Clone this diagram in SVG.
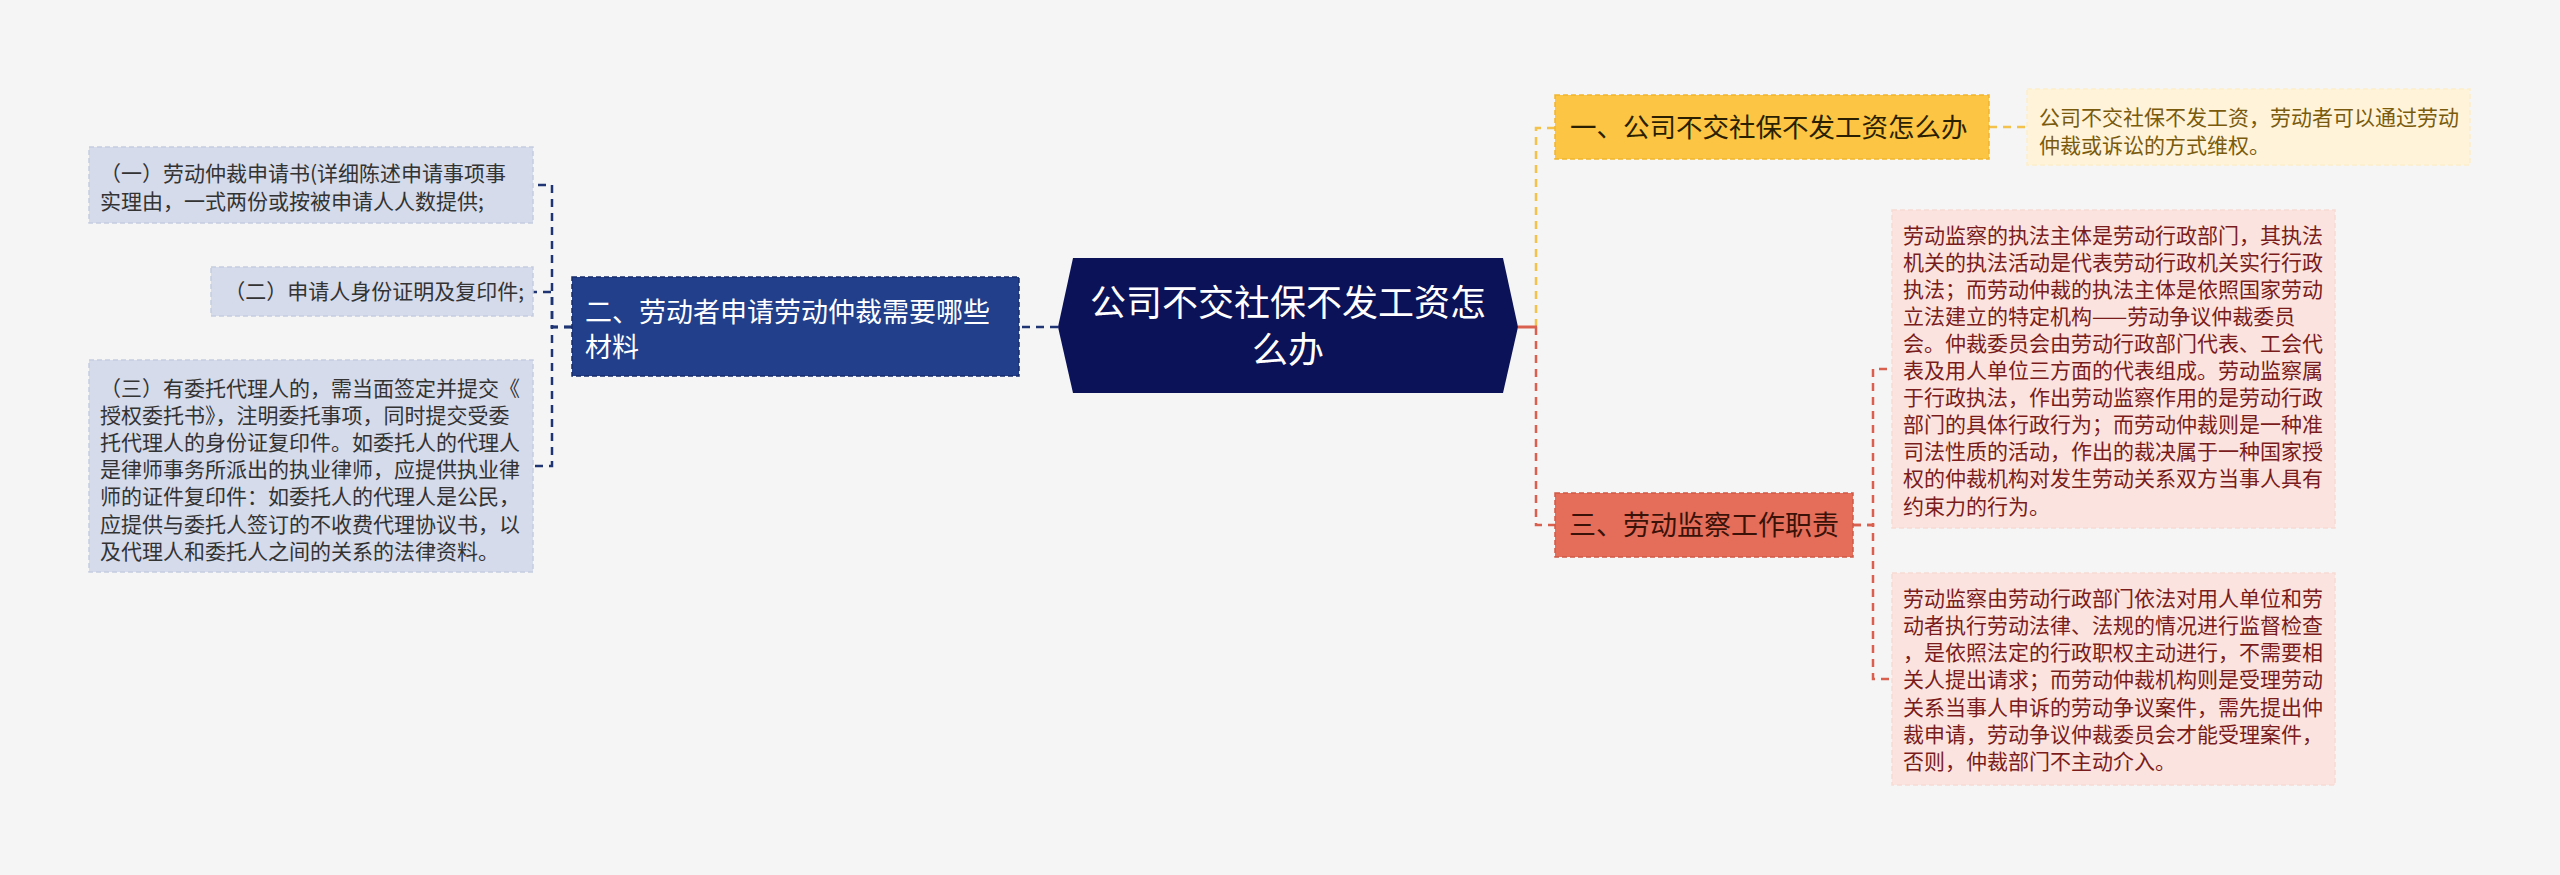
<svg xmlns="http://www.w3.org/2000/svg" width="2560" height="875" viewBox="0 0 2560 875">
<style>
text{font-family:"Noto Sans CJK SC","Noto Sans",sans-serif;}
.lbox{fill:#d5dbeb;stroke:#c6cde1;stroke-width:1.5;stroke-dasharray:5 3;}
.ltxt{font-size:21px;fill:#333333;}
.n2{fill:#213f8b;stroke:#162c6c;stroke-width:1.5;stroke-dasharray:5 3;}
.n2t{font-size:27px;fill:#ffffff;}
.ctr{fill:#0b1258;}
.ctrt{font-size:36px;fill:#ffffff;}
.n1{fill:#fcc543;stroke:#efb52f;stroke-width:1.5;stroke-dasharray:5 3;}
.n1t{font-size:26.5px;fill:#2a1f00;}
.y1{fill:#fff4d9;stroke:#fdeecb;stroke-width:1.5;stroke-dasharray:5 3;}
.y1t{font-size:21px;fill:#7a5b0e;}
.n3{fill:#e46e5a;stroke:#cf5a47;stroke-width:1.5;stroke-dasharray:5 3;}
.n3t{font-size:27px;fill:#3b1208;}
.r1{fill:#fbe4df;stroke:#f8dad3;stroke-width:1.5;stroke-dasharray:5 3;}
.r1t{font-size:21px;fill:#7a1c1c;}
.cb{fill:none;stroke:#1f3573;stroke-width:2.5;stroke-dasharray:8 6;}
.cy{fill:none;stroke:#f4c14b;stroke-width:2.5;stroke-dasharray:8 6;}
.cr{fill:none;stroke:#d9604f;stroke-width:2.5;stroke-dasharray:8 6;}
</style>
<rect x="0" y="0" width="2560" height="875" fill="#f5f5f5"/>

<g id="connectors">
  <path class="cb" d="M1058,327 H1019"/>
  <path class="cb" d="M572,327 H552 V185 H533"/>
  <path class="cb" d="M572,327 H552 V292 H533"/>
  <path class="cb" d="M572,327 H552 V466 H533"/>
  <path class="cy" d="M1536,327 V128 H1555"/>
  <path class="cy" d="M1989,127 H2027"/>
  <path class="cr" d="M1536,327 V525 H1555"/>
  <path d="M1518,327 H1537" stroke="#d9604f" stroke-width="3" fill="none"/>
  <path class="cr" d="M1853,525 H1873 V369 H1892"/>
  <path class="cr" d="M1853,525 H1873 V679 H1892"/>
</g>

<g id="center">
  <polygon class="ctr" points="1058,327 1073,258 1503,258 1518,327 1503,393 1073,393"/>
  <text class="ctrt" x="1288" y="316" text-anchor="middle">公司不交社保不发工资怎</text>
  <text class="ctrt" x="1288" y="363" text-anchor="middle">么办</text>
</g>

<g id="node-2">
  <rect class="n2" x="572" y="277" width="447" height="99"/>
  <text class="n2t" x="585" y="321.5">二、劳动者申请劳动仲裁需要哪些</text>
  <text class="n2t" x="585" y="356.5">材料</text>
</g>

<g id="leaf-2-1">
  <rect class="lbox" x="89" y="147" width="444" height="76"/>
  <text class="ltxt" x="100" y="180.5">（一）劳动仲裁申请书(详细陈述申请事项事</text>
  <text class="ltxt" x="100" y="208.5">实理由，一式两份或按被申请人人数提供;</text>
</g>

<g id="leaf-2-2">
  <rect class="lbox" x="211" y="267" width="322" height="49"/>
  <text class="ltxt" x="524" y="299" text-anchor="end">（二）申请人身份证明及复印件;</text>
</g>

<g id="leaf-2-3">
  <rect class="lbox" x="89" y="360" width="444" height="212"/>
  <text class="ltxt" x="100" y="395.5">（三）有委托代理人的，需当面签定并提交《</text>
  <text class="ltxt" x="100" y="422.7">授权委托书》，注明委托事项，同时提交受委</text>
  <text class="ltxt" x="100" y="449.9">托代理人的身份证复印件。如委托人的代理人</text>
  <text class="ltxt" x="100" y="477.1">是律师事务所派出的执业律师，应提供执业律</text>
  <text class="ltxt" x="100" y="504.3">师的证件复印件：如委托人的代理人是公民，</text>
  <text class="ltxt" x="100" y="531.5">应提供与委托人签订的不收费代理协议书，以</text>
  <text class="ltxt" x="100" y="558.7">及代理人和委托人之间的关系的法律资料。</text>
</g>

<g id="node-1">
  <rect class="n1" x="1555" y="95" width="434" height="64"/>
  <text class="n1t" x="1570" y="137">一、公司不交社保不发工资怎么办</text>
</g>

<g id="leaf-1-1">
  <rect class="y1" x="2027" y="89" width="443" height="76"/>
  <text class="y1t" x="2039" y="124.5">公司不交社保不发工资，劳动者可以通过劳动</text>
  <text class="y1t" x="2039" y="152.5">仲裁或诉讼的方式维权。</text>
</g>

<g id="node-3">
  <rect class="n3" x="1555" y="493" width="298" height="64"/>
  <text class="n3t" x="1569" y="534.5">三、劳动监察工作职责</text>
</g>

<g id="leaf-3-1">
  <rect class="r1" x="1892" y="210" width="443" height="318"/>
  <text class="r1t" x="1903" y="242.5">劳动监察的执法主体是劳动行政部门，其执法</text>
  <text class="r1t" x="1903" y="269.6">机关的执法活动是代表劳动行政机关实行行政</text>
  <text class="r1t" x="1903" y="296.7">执法；而劳动仲裁的执法主体是依照国家劳动</text>
  <text class="r1t" x="1903" y="323.8">立法建立的特定机构——劳动争议仲裁委员</text>
  <text class="r1t" x="1903" y="350.9">会。仲裁委员会由劳动行政部门代表、工会代</text>
  <text class="r1t" x="1903" y="378">表及用人单位三方面的代表组成。劳动监察属</text>
  <text class="r1t" x="1903" y="405.1">于行政执法，作出劳动监察作用的是劳动行政</text>
  <text class="r1t" x="1903" y="432.2">部门的具体行政行为；而劳动仲裁则是一种准</text>
  <text class="r1t" x="1903" y="459.3">司法性质的活动，作出的裁决属于一种国家授</text>
  <text class="r1t" x="1903" y="486.4">权的仲裁机构对发生劳动关系双方当事人具有</text>
  <text class="r1t" x="1903" y="513.5">约束力的行为。</text>
</g>

<g id="leaf-3-2">
  <rect class="r1" x="1892" y="573" width="443" height="212"/>
  <text class="r1t" x="1903" y="605.5">劳动监察由劳动行政部门依法对用人单位和劳</text>
  <text class="r1t" x="1903" y="632.8">动者执行劳动法律、法规的情况进行监督检查</text>
  <text class="r1t" x="1903" y="660.1">，是依照法定的行政职权主动进行，不需要相</text>
  <text class="r1t" x="1903" y="687.4">关人提出请求；而劳动仲裁机构则是受理劳动</text>
  <text class="r1t" x="1903" y="714.7">关系当事人申诉的劳动争议案件，需先提出仲</text>
  <text class="r1t" x="1903" y="742">裁申请，劳动争议仲裁委员会才能受理案件，</text>
  <text class="r1t" x="1903" y="769.3">否则，仲裁部门不主动介入。</text>
</g>
</svg>
